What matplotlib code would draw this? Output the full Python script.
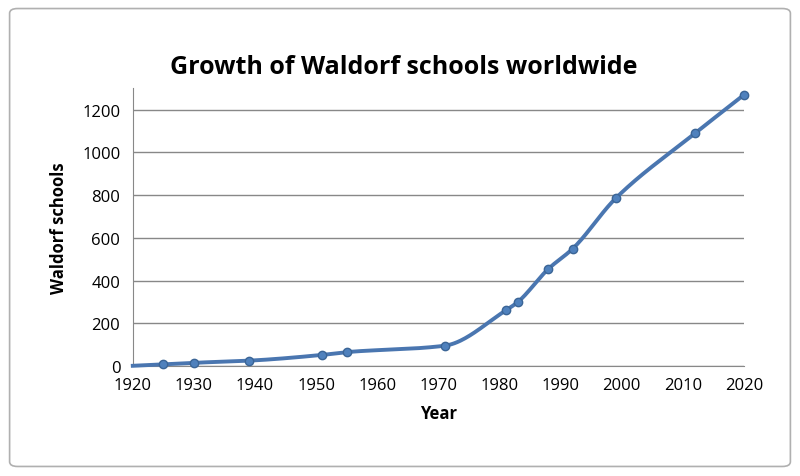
import numpy as np
import matplotlib.pyplot as plt
from matplotlib.patches import FancyBboxPatch

plt.rcParams['font.family'] = ['Open Sans', 'DejaVu Sans']

years = [1920, 1925, 1930, 1939, 1951, 1955, 1971, 1981, 1983, 1988, 1992, 1999, 2012, 2020]
schools = [1, 8, 15, 25, 52, 65, 95, 260, 300, 455, 550, 785, 1090, 1270]
marker_years = years[1:]
marker_schools = schools[1:]


def smooth(x, y, n=400):
    # monotone cubic (Fritsch-Carlson), only for drawing a smooth line
    x = np.asarray(x, float)
    y = np.asarray(y, float)
    h = np.diff(x)
    d = np.diff(y) / h
    m = np.zeros_like(y)
    m[0], m[-1] = d[0], d[-1]
    for i in range(1, len(x) - 1):
        if d[i - 1] * d[i] > 0:
            w1 = 2 * h[i] + h[i - 1]
            w2 = h[i] + 2 * h[i - 1]
            m[i] = (w1 + w2) / (w1 / d[i - 1] + w2 / d[i])
    xs = np.linspace(x[0], x[-1], n)
    idx = np.clip(np.searchsorted(x, xs) - 1, 0, len(x) - 2)
    t = (xs - x[idx]) / h[idx]
    h00 = 2 * t**3 - 3 * t**2 + 1
    h10 = t**3 - 2 * t**2 + t
    h01 = -2 * t**3 + 3 * t**2
    h11 = t**3 - t**2
    ys = h00 * y[idx] + h10 * h[idx] * m[idx] + h01 * y[idx + 1] + h11 * h[idx] * m[idx + 1]
    return xs, ys


fig = plt.figure(figsize=(8, 4.77), dpi=100)
fig.patches.append(FancyBboxPatch((0.012, 0.02), 0.976, 0.96, boxstyle='round,pad=0,rounding_size=0.01',
                                  transform=fig.transFigure, facecolor='white', edgecolor='#b0b0b0',
                                  lw=1.2, zorder=-10))
ax = fig.add_axes([0.166, 0.2306, 0.764, 0.582])
ax.set_facecolor('none')

xs, ys = smooth(years, schools)
ax.plot(xs, ys, color='#4a76b0', lw=2.8, zorder=3, clip_on=False)
ax.plot(marker_years, marker_schools, 'o', color='#4f81bd', mec='#3b6596', ms=6, zorder=4, clip_on=False)

ax.set_xlim(1920, 2020)
ax.set_ylim(0, 1300)
ax.set_xticks(range(1920, 2021, 10))
ax.set_yticks(range(0, 1201, 200))
ax.yaxis.grid(True, color='#888888', lw=1)
ax.set_axisbelow(True)
for s in ['top', 'right']:
    ax.spines[s].set_visible(False)
ax.spines['left'].set_color('#888888')
ax.spines['bottom'].set_color('#888888')
ax.tick_params(axis='x', labelsize=12, length=0, pad=8)
ax.tick_params(axis='y', labelsize=12, length=0, pad=9)
ax.set_xlabel('Year', fontsize=12, fontweight='bold', labelpad=8)
ax.set_ylabel('Waldorf schools', fontsize=12, fontweight='bold', labelpad=10)
fig.text(0.505, 0.858, 'Growth of Waldorf schools worldwide', ha='center', va='center',
         fontsize=18, fontweight='bold')

fig.savefig('out.png', dpi=100)
